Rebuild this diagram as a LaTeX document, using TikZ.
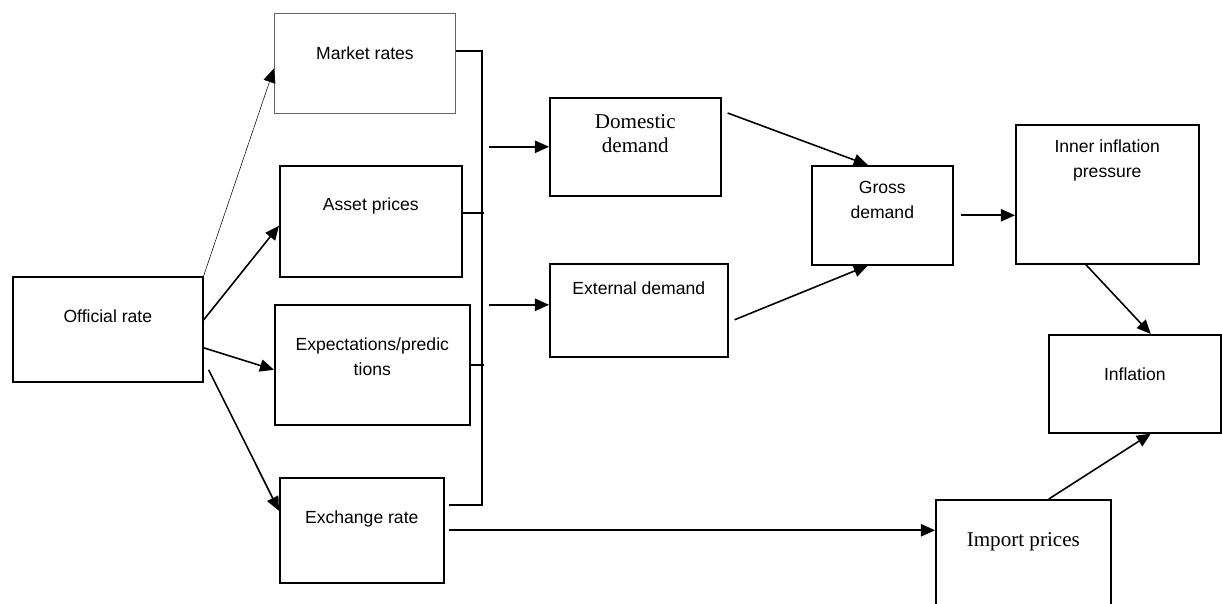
\documentclass[tikz,border=0pt]{standalone}
\usepackage{fontspec}
\setmainfont{Liberation Serif}
\setsansfont{Liberation Sans}
\usetikzlibrary{arrows.meta}
\begin{document}
\begin{tikzpicture}[
  line/.style={line width=0.9pt},
  arrow/.style={line, -{Triangle[length=8pt,width=7pt]}},
  box/.style={draw, line width=0.9pt, anchor=north west, inner xsep=0pt, inner ysep=0pt,
    align=center, font=\sffamily\fontsize{10}{14}\selectfont},
  serif/.style={font=\rmfamily\fontsize{12}{13.6}\selectfont},
  thinbox/.style={draw=black!60, line width=0.5pt}]
\useasboundingbox (0,0) rectangle (24.44,12.06);

%\draw[step=1cm,gray,very thin] (0,0) grid (24,12);
\node[box, minimum width=3.8cm, text height=0.92cm, text depth=1.18cm] (official) at (0.24,6.54) {Official rate};
\node[box, thinbox, minimum width=3.62cm, text height=0.92cm, text depth=1.08cm] (market) at (5.48,11.80) {Market rates};
\node[box, minimum width=3.64cm, text height=0.90cm, text depth=1.32cm] (asset) at (5.58,8.76) {Asset prices};
\node[box, minimum width=3.90cm, text height=1.41cm, text depth=0.99cm] (expect) at (5.48,5.98) {Expectations/predic\\tions};
\node[box, minimum width=3.28cm, text height=0.92cm, text depth=1.18cm] (exchange) at (5.58,2.52) {Exchange rate};

\node[box, serif, minimum width=3.42cm, text height=1.10cm, text depth=0.86cm] (domestic) at (10.98,10.12) {Domestic\\demand};
\node[box, minimum width=3.56cm, text height=0.62cm, text depth=1.24cm] (external) at (10.98,6.80) {External demand};
\node[box, minimum width=2.82cm, text height=1.05cm, text depth=0.93cm] (gross) at (16.22,8.76) {Gross\\demand};
\node[box, minimum width=3.66cm, text height=1.05cm, text depth=1.73cm] (inner) at (20.30,9.58) {Inner inflation\\pressure};
\node[box, minimum width=3.44cm, text height=0.92cm, text depth=1.04cm] (inflation) at (20.96,5.38) {Inflation};
\node[box, serif, minimum width=3.50cm, text height=0.94cm, text depth=1.30cm] (import) at (18.70,2.08) {Import prices};

%------------------------------------------------

\coordinate (bustop) at (9.64,11.04);
\coordinate (busbot) at (9.64,1.96);
\draw[line] (market.east |- bustop) -- (bustop) -- (busbot) -- ([xshift=0.8mm]exchange.east |- busbot);
\draw[line] ([yshift=1.7mm]asset.east) -- ++(0.42,0);
\draw[line] (expect.east) -- ++(0.26,0);

\draw[line width=0.3pt, -{Triangle[length=8pt,width=7pt]}] (official.north east) -- ([yshift=-1mm]market.west);
\draw[arrow] ([yshift=-8.8mm]official.north east) -- ([yshift=-0.9mm]asset.west);
\draw[arrow] ([yshift=-3.7mm]official.east) -- ([yshift=-1mm]expect.west);
\draw[arrow] ([shift={(0.1,-0.81)}]official.east) -- ([yshift=3.9mm]exchange.west);

\draw[arrow] ([xshift=-12mm]domestic.west) -- (domestic.west);
\draw[arrow] ([shift={(-1.2,0.11)}]external.west) -- ([yshift=1.1mm]external.west);
\draw[arrow] ([xshift=0.8mm]exchange.east) -- (exchange.east -| import.west);

\draw[arrow] ([shift={(0.12,-0.32)}]domestic.north east) -- ([xshift=-2.9mm]gross.north);
\draw[arrow] ([shift={(0.12,-0.19)}]external.east) -- ([xshift=-2.9mm]gross.south);
\draw[arrow] ([xshift=1.4mm]gross.east) -- (gross.east -| inner.west);
\draw[arrow] ([xshift=-4.3mm]inner.south) -- ([xshift=3.2mm]inflation.north);
\draw[arrow] ([xshift=5.1mm]import.north) -- ([xshift=3.2mm]inflation.south);
\end{tikzpicture}
\end{document}
